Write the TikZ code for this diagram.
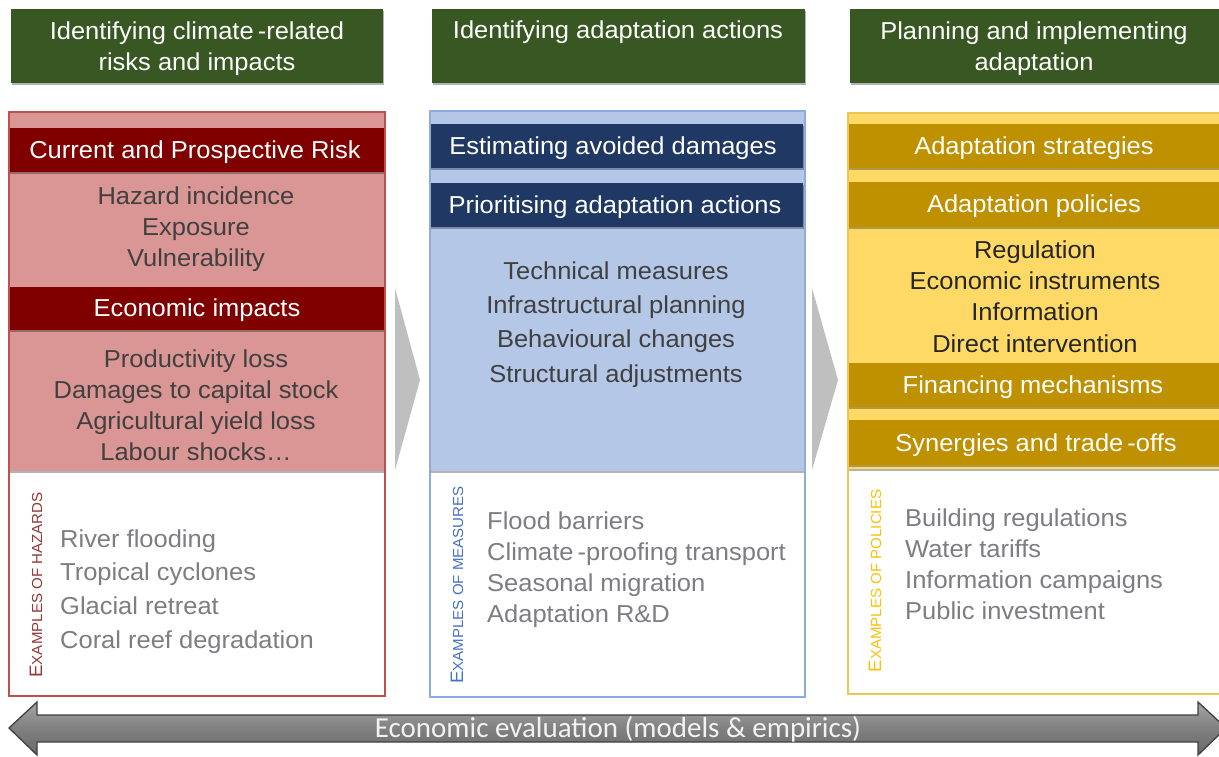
\documentclass[tikz,border=0pt]{standalone}
\usepackage{fontspec}
\setmainfont{Liberation Sans}[FakeStretch=1.04]
\newfontfamily\evalfont{Carlito}
\usetikzlibrary{shadows}

\definecolor{hdrgreen}{RGB}{56,87,35}
\definecolor{riskfill}{RGB}{217,150,148}
\definecolor{riskbar}{RGB}{128,0,0}
\definecolor{riskline}{RGB}{192,80,77}
\definecolor{risklabel}{RGB}{148,54,52}
\definecolor{actfill}{RGB}{180,199,231}
\definecolor{actbar}{RGB}{31,56,100}
\definecolor{actline}{RGB}{143,170,220}
\definecolor{actlabel}{RGB}{68,114,196}
\definecolor{polfill}{RGB}{255,217,102}
\definecolor{polbar}{RGB}{191,144,0}
\definecolor{polline}{RGB}{240,196,80}
\definecolor{pollabel}{RGB}{255,192,0}
\definecolor{bodygray}{RGB}{64,64,64}
\definecolor{bodydark}{RGB}{38,38,38}
\definecolor{exgray}{RGB}{125,125,130}
\definecolor{chevgray}{RGB}{191,191,191}
\definecolor{evaltop}{RGB}{165,165,165}
\definecolor{evalmid}{RGB}{128,128,128}
\definecolor{evalbot}{RGB}{105,105,105}
\definecolor{evalline}{RGB}{64,64,64}

\newcommand{\exlab}[1]{{\fontsize{18}{18}\selectfont E}{\fontsize{14.5}{14.5}\selectfont #1}}

\begin{document}
\begin{tikzpicture}[x=1pt,y=-1pt,
  hdrtext/.style={text=white, align=center, inner sep=0pt, font=\fontsize{24.5}{31}\selectfont},
  bartext/.style={text=white, inner sep=0pt, anchor=base, font=\fontsize{24.5}{31}\selectfont},
  listtext/.style={align=center, inner sep=0pt, anchor=north},
  extext/.style={align=left, inner sep=0pt, anchor=north west, text=exgray},
  exlabel/.style={rotate=90, anchor=base, inner sep=0pt},
  softshadow/.style={drop shadow={shadow xshift=0.6pt, shadow yshift=-2.2pt, opacity=0.3, fill=black}},
]
\clip (0,0) rectangle (1219,756);
\fill[white] (0,0) rectangle (1219,756);

% ---------- stage headers ----------
\fill[hdrgreen, softshadow] (11,9) rectangle (383,83);
\fill[hdrgreen, softshadow] (432,9) rectangle (805,83);
\fill[hdrgreen, softshadow] (850,9) rectangle (1225,83);
\node[hdrtext, anchor=north] (hrisk) at (197,21.2) {Identifying climate\,-related\\risks and impacts};
\node[hdrtext, anchor=base] (hact) at (618,38.8) {Identifying adaptation actions};
\node[hdrtext, anchor=north] (hplan) at (1034,21.2) {Planning and implementing\\adaptation};

% ---------- column 1: risks and impacts ----------
\fill[riskfill, softshadow] (9,112) rectangle (385,471);
\fill[riskbar, softshadow] (9,128) rectangle (384,172);
\fill[riskbar, softshadow] (9,287) rectangle (384,330);
\draw[riskline, line width=1.2pt] (9,112) rectangle (385,696);
\node[bartext] (risk) at (195,158.8) {Current and Prospective Risk};
\node[listtext, text=bodygray, font=\fontsize{24.5}{31}\selectfont] (riskitems) at (196,186.2)
  {Hazard incidence\\Exposure\\Vulnerability};
\node[bartext] (impacts) at (197,316.8) {Economic impacts};
\node[listtext, text=bodygray, font=\fontsize{24.5}{31}\selectfont] (impactitems) at (196,349.2)
  {Productivity loss\\Damages to capital stock\\Agricultural yield loss\\Labour shocks…};
\node[exlabel, text=risklabel] (hazlab) at (42,585) {\exlab{XAMPLES OF HAZARDS}};
\node[extext, font=\fontsize{24.5}{33.7}\selectfont] (hazards) at (60,529.2)
  {River flooding\\Tropical cyclones\\Glacial retreat\\Coral reef degradation};

% ---------- column 2: adaptation actions ----------
\fill[actfill, softshadow] (430,111) rectangle (805,471);
\fill[actbar, softshadow] (430,124) rectangle (803,168);
\fill[actbar, softshadow] (430,183) rectangle (803,227);
\draw[actline, line width=1.2pt] (430,111) rectangle (805,697);
\node[bartext] (avoided) at (613,154.8) {Estimating avoided damages};
\node[bartext] (prior) at (615,213.8) {Prioritising adaptation actions};
\node[listtext, text=bodygray, font=\fontsize{24.5}{34.3}\selectfont] (actitems) at (616,261.2)
  {Technical measures\\Infrastructural planning\\Behavioural changes\\Structural adjustments};
\node[exlabel, text=actlabel] (measlab) at (463,585) {\exlab{XAMPLES OF MEASURES}};
\node[extext, font=\fontsize{24.5}{31}\selectfont] (measures) at (487,511.2)
  {Flood barriers\\Climate\,-proofing transport\\Seasonal migration\\Adaptation R\&D};

% ---------- column 3: planning and implementing ----------
\fill[polfill, softshadow] (848,113) rectangle (1225,469);
\fill[polbar, softshadow] (848,124) rectangle (1225,168);
\fill[polbar, softshadow] (848,182) rectangle (1225,227);
\fill[polbar, softshadow] (848,363) rectangle (1225,407);
\fill[polbar, softshadow] (848,420) rectangle (1225,465);
\draw[polline, line width=1.2pt] (848,113) rectangle (1225,694);
\node[bartext] (strat) at (1034,154.8) {Adaptation strategies};
\node[bartext] (policies) at (1034,212.8) {Adaptation policies};
\node[listtext, text=bodydark, font=\fontsize{24.5}{31.3}\selectfont] (politems) at (1035,240.2)
  {Regulation\\Economic instruments\\Information\\Direct intervention};
\node[bartext] (finance) at (1033,393.8) {Financing mechanisms};
\node[bartext] (synergy) at (1036,451.8) {Synergies and trade\,-offs};
\node[exlabel, text=pollabel] (pollab) at (881,581) {\exlab{XAMPLES OF POLICIES}};
\node[extext, font=\fontsize{24.5}{31}\selectfont] (polexamples) at (905,508.2)
  {Building regulations\\Water tariffs\\Information campaigns\\Public investment};

% ---------- chevrons between stages ----------
\fill[chevgray] (395,288) -- (420,380) -- (395,470) -- cycle;
\fill[chevgray] (812,288) -- (838,380) -- (812,470) -- cycle;

% ---------- economic evaluation double arrow ----------
\path[top color=evaltop, bottom color=evalbot, middle color=evalmid,
      draw=evalline, line width=1.3pt, line join=miter]
  (9,728) -- (37,702) -- (37,715) -- (1198,715) -- (1198,702) -- (1226,728)
  -- (1198,755) -- (1198,742) -- (37,742) -- (37,755) -- cycle;
\node[text={rgb,255:red,242;green,242;blue,242}, inner sep=0pt, anchor=base,
      font=\evalfont\fontsize{29}{34}\selectfont] (evaluation) at (618,737.5)
  {Economic evaluation (models \& empirics)};
\end{tikzpicture}
\end{document}
